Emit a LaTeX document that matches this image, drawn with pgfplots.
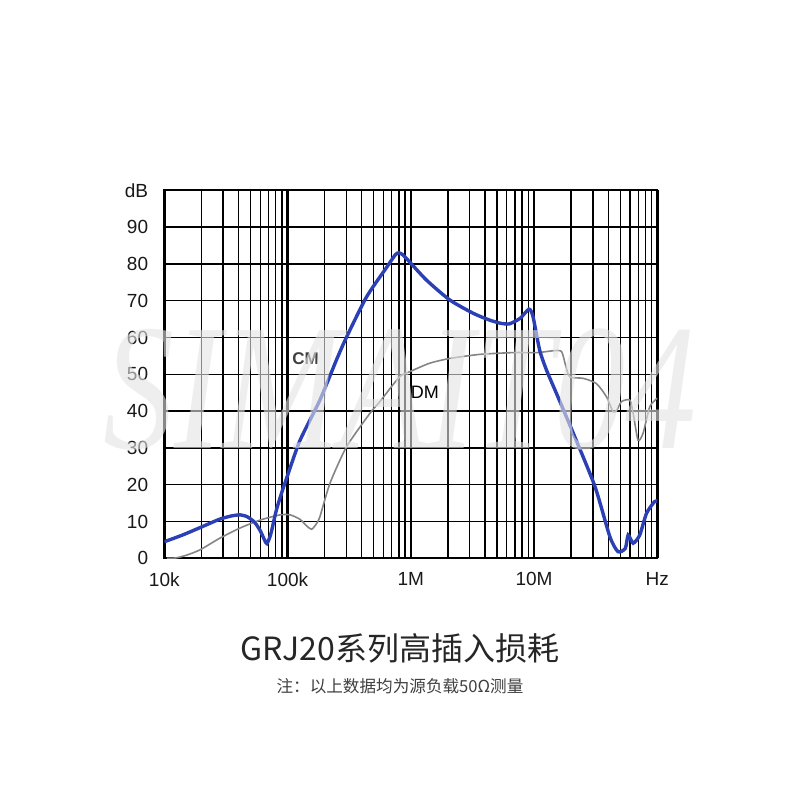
\documentclass[border=0pt]{standalone}
\usepackage{pgfplots}
\pgfplotsset{compat=1.18}
\usepackage{fontspec}
\setmainfont{Liberation Sans}
\newfontfamily\cjk{Noto Sans CJK SC}
\newfontfamily\wmfont{Liberation Serif}
\definecolor{cmblue}{HTML}{2B40B5}
\definecolor{dmgray}{HTML}{858585}
\definecolor{wmgray}{HTML}{E4E4E4}
\begin{document}
\begin{tikzpicture}[x=1pt,y=1pt]
\fill[white] (0,0) rectangle (800,800);
\begin{axis}[
    at={(164.3pt,241.7pt)}, anchor=south west,
    scale only axis, width=493pt, height=368pt,
    xmode=log, xmin=1e4, xmax=1e8, ymin=0, ymax=100,
    xtick={1e4,1e5,1e6,1e7,1e8},
    xticklabels={10k,100k,1M,10M,Hz},
    minor xtick={2e4,3e4,4e4,5e4,6e4,7e4,8e4,9e4,
                 2e5,3e5,4e5,5e5,6e5,7e5,8e5,9e5,
                 2e6,3e6,4e6,5e6,6e6,7e6,8e6,9e6,
                 2e7,3e7,4e7,5e7,6e7,7e7,8e7,9e7},
    ytick={0,10,...,100},
    yticklabels={0,10,20,30,40,50,60,70,80,90,dB},
    major tick length=0pt, minor tick length=0pt,
    xmajorgrids, xminorgrids, ymajorgrids,
    major x grid style={black, line width=2.6pt},
    minor x grid style={black, line width=1.35pt},
    major y grid style={black, line width=1.4pt},
    axis line style={black, line width=1.8pt},
    ticklabel style={font=\fontsize{19}{22}\selectfont, text=black!90},
    xticklabel style={anchor=north, inner sep=0pt, yshift=-14pt},
    yticklabel style={anchor=east, inner sep=0pt, xshift=-16pt},
    /pgf/number format/assume math mode=true,
]
% DM
\addplot[dmgray, line width=1.6pt, smooth, tension=0.4] coordinates {
    (1.05e4,0) (1.24e4,0.1) (1.5e4,0.8) (1.95e4,2.3) (2.8e4,5.4)
    (4.1e4,8.2) (6e4,10.4) (8.7e4,11.8) (1.05e5,11.8) (1.26e5,10.6)
    (1.45e5,8.6) (1.57e5,7.9) (1.7e5,9.2) (1.83e5,11.3) (2.21e5,20.4)
    (3.01e5,30.3) (4.66e5,39.4) (5.62e5,42.6) (8.1e5,49.3) (9.8e5,50.7)
    (1.42e6,53) (2.07e6,54.3) (3.6e6,55.4) (6.8e6,55.9) (1.07e7,55.9)
    (1.43e7,56.4) (1.67e7,56.2) (1.8e7,52.5) (1.95e7,49.3) (2.5e7,48.9)
    (3.2e7,47.5) (3.87e7,43.9) (4.38e7,39.8) (4.7e7,40.3) (5.13e7,42.6)
    (5.98e7,43) (6.37e7,39.4) (6.98e7,32.1) (7.67e7,34) (8.69e7,41.2)
    (1e8,43.5)
};
% CM
\addplot[cmblue, line width=3.4pt, smooth, tension=0.4] coordinates {
    (1e4,4.5) (1.4e4,6.3) (2e4,8.5) (2.8e4,10.6) (3.5e4,11.5)
    (4.1e4,11.8) (4.7e4,11.3) (5.4e4,9.8) (6e4,7.5) (6.5e4,5)
    (6.8e4,4) (7.3e4,6.5) (8.1e4,13) (9e4,18) (1e5,22.5)
    (1.26e5,32) (1.83e5,43) (2.5e5,54) (3e5,60) (4.37e5,71)
    (6.35e5,79) (7.5e5,82.5) (8e5,83) (8.6e5,82.5) (9.5e5,81)
    (1.34e6,75.6) (2.07e6,70.2) (3.2e6,66.6) (4.3e6,64.8) (5.3e6,63.9)
    (6.3e6,63.7) (7.7e6,65.2) (9.1e6,67.7) (9.8e6,65.7) (1.11e7,56.6)
    (1.26e7,51.2) (1.52e7,44.8) (2.08e7,34) (3.12e7,19.5) (4.12e7,5.9)
    (4.8e7,1.8) (5.5e7,2.7) (5.8e7,6.3) (6.37e7,4.1) (7.2e7,6.3)
    (8.17e7,12.2) (9.5e7,15.4) (1e8,15.5)
};
\node[font=\bfseries\fontsize{17}{17}\selectfont, text=black!75]
    at (axis cs:1.4e5,54.2) {CM};
\node[font=\fontsize{18}{18}\selectfont, text=black]
    at (axis cs:1.3e6,45) {DM};
\end{axis}
% faint watermark, as in the reference
\node[text=wmgray, opacity=0.6, inner sep=0pt]
    at (400,410) {\scalebox{0.79}[1]{\wmfont\itshape\fontsize{180}{180}\selectfont SIMAIT04}};
\node[font=\cjk\fontsize{32}{32}\selectfont, text=black!85] at (400,152)
    {GRJ20系列高插入损耗};
\node[font=\cjk\fontsize{16.6}{16.6}\selectfont, text=black!75] at (400,114)
    {注：以上数据均为源负载50Ω测量};
\end{tikzpicture}
\end{document}
